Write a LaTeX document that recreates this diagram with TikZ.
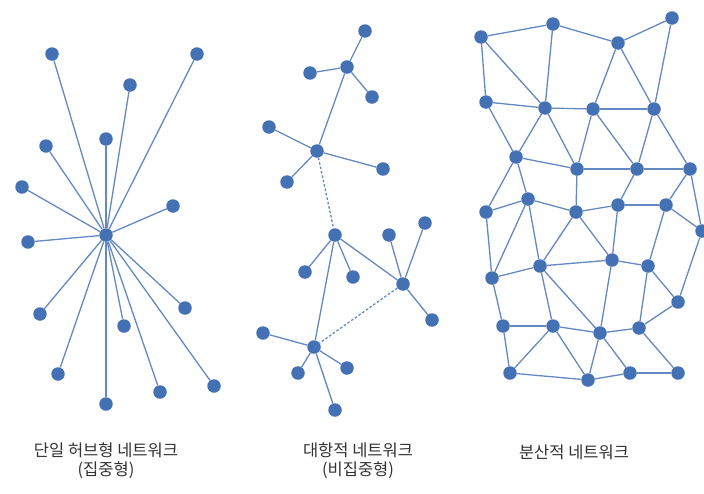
\documentclass[tikz,border=0pt]{standalone}
\usepackage{fontspec}
\newfontfamily\kr{Noto Sans CJK KR}
\definecolor{dotc}{RGB}{68,112,180}
\definecolor{edgec}{RGB}{100,136,192}
\definecolor{txtc}{RGB}{50,50,50}
\begin{document}
\begin{tikzpicture}[x=1pt,y=-1pt,
  dot/.style={circle,fill=dotc,inner sep=0pt,minimum size=13.5pt},
  ln/.style={draw=edgec,line width=1.3pt},
  dln/.style={draw=edgec,line width=1.3pt,dash pattern=on 2.5pt off 2pt},
  lab/.style={font=\kr\fontsize{16.5}{19}\selectfont,text=txtc,align=center}]
\useasboundingbox (0,0) rectangle (704,493);
% ---------- single hub ----------
\node[dot] (h) at (106,235) {};
\foreach \n/\p in {a1/{(52,54)},a2/{(197,54)},a3/{(130,85)},a4/{(106,139)},a5/{(46,146)},a6/{(22,187)},a7/{(173,206)},a8/{(28,242)},a9/{(185,308)},a10/{(40,314)},a11/{(124,326)},a12/{(58,374)},a13/{(160,392)},a14/{(214,386)},a15/{(106,404)}}{
  \node[dot] (\n) at \p {};
}
\foreach \n in {a1,a2,a3,a4,a5,a6,a7,a8,a9,a10,a11,a12,a13,a14,a15}{\draw[ln] (h) -- (\n);}
% ---------- decentralized ----------
\foreach \n/\p in {b1/{(365,31)},b2/{(347,67)},b3/{(310,73)},b4/{(372,97)},b5/{(269,127)},b6/{(317,151)},b7/{(383,169)},b8/{(287,182)},b9/{(335,235)},b10/{(389,235)},b11/{(425,223)},b12/{(305,272)},b13/{(353,277)},b14/{(403,284)},b15/{(432,320)},b16/{(263,333)},b17/{(314,347)},b18/{(298,373)},b19/{(347,368)},b20/{(335,410)}}{
  \node[dot] (\n) at \p {};
}
\foreach \u/\v in {b1/b2,b2/b3,b2/b4,b2/b6,b6/b5,b6/b7,b6/b8,b9/b12,b9/b13,b9/b14,b9/b17,b14/b10,b14/b11,b14/b15,b17/b16,b17/b18,b17/b19,b17/b20}{\draw[ln] (\u) -- (\v);}
\draw[dln] (b6) -- (b9);
\draw[dln] (b14) -- (b17);
% ---------- distributed ----------
\foreach \n/\p in {A/{(481,37)},B/{(553,24)},C/{(618,43)},D/{(672,18)},E/{(486,102)},F/{(545,108)},G/{(593,109)},H/{(654,109)},I/{(516,157)},J/{(577,169)},K/{(637,169)},L/{(690,169)},M/{(528,199)},N/{(486,212)},O/{(576,212)},P/{(618,205)},Q/{(666,205)},R/{(702,231)},S/{(492,278)},T/{(540,266)},U/{(612,260)},V/{(648,266)},W/{(678,302)},X/{(503,326)},Y/{(553,326)},Z/{(600,333)},AA/{(639,328)},BB/{(510,373)},CC/{(588,380)},DD/{(630,373)},EE/{(678,373)}}{
  \node[dot] (\n) at \p {};
}
\foreach \u/\v in {A/B,B/C,C/D,A/E,A/F,B/F,E/F,F/G,G/H,C/G,C/H,D/H,E/I,F/I,F/J,G/J,G/K,H/K,H/L,I/J,J/K,K/L,I/M,I/N,J/O,K/P,L/Q,L/R,N/M,M/O,O/P,P/Q,Q/R,N/S,M/S,M/T,O/T,O/U,P/U,Q/V,T/U,U/V,V/W,W/R,S/T,S/X,T/Y,T/Z,U/Z,V/AA,X/Y,Y/Z,Z/AA,AA/W,X/BB,Y/BB,Y/CC,Z/CC,Z/DD,AA/EE,BB/CC,CC/DD,DD/EE}{\draw[ln] (\u) -- (\v);}
% ---------- labels ----------
\node[lab] (t1) at (106,461) {단일 허브형 네트워크\\(집중형)};
\node[lab] (t2) at (358,461) {대항적 네트워크\\(비집중형)};
\node[lab] (t3) at (574,452) {분산적 네트워크};
\end{tikzpicture}
\end{document}
